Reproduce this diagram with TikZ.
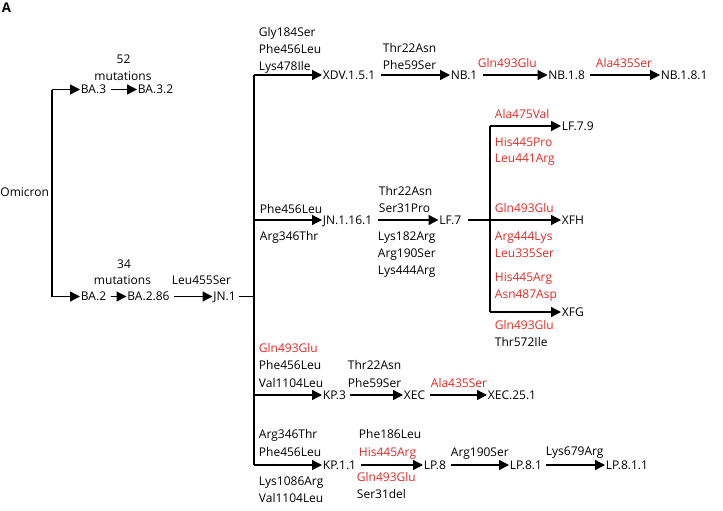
\documentclass[tikz,border=0pt]{standalone}
\usepackage{fontspec}
\setmainfont{Open Sans}
\usetikzlibrary{arrows.meta}
\definecolor{mutred}{RGB}{222,44,38}
\tikzset{
  lineage/.style={anchor=west, inner sep=0.5pt, text height=7.4pt, text depth=1pt, font=\fontsize{9}{11}\selectfont},
  redmut/.style={lineage, text=mutred},
  trunk/.style={line width=1pt},
  branch/.style={line width=1pt, -{Triangle[length=7.5pt,width=7.5pt]}},
}

\begin{document}
\begin{tikzpicture}[x=0.75pt,y=0.75pt,yscale=-1,xscale=1]
\useasboundingbox (0,0) rectangle (723,510);

% Text Node
\node (panel) at (1.5,8) [anchor=west,inner sep=0pt,font=\bfseries\fontsize{10}{12}\selectfont] {A};
% Text Node
\node (omicron) at (-0.5,192.5) [lineage] {Omicron};

%Straight Lines
\coordinate (omtop) at (52,89.5);
\coordinate (ombot) at (52,296.5);
\draw [trunk] (omtop) -- (ombot);

% BA.3 lineage
\node (ba3) at (80,89.5) [lineage] {BA.3};
\node (ba32) at (137,89.5) [lineage] {BA.3.2};
\node (ba3n) at (123.5,59.5) [lineage,anchor=center] {52};
\node (ba3mut) at (123,76) [lineage,anchor=center] {mutations};
\draw [branch] (omtop) -- (ba3.west);
\draw [branch,shorten <=3pt] (ba3.east) -- (ba32.west);

% BA.2 lineage
\node (ba2) at (80,296.5) [lineage] {BA.2};
\node (ba286) at (126.5,296.5) [lineage] {BA.2.86};
\node (jn1) at (212.5,296.5) [lineage] {JN.1};
\node (ba2n) at (124,264.5) [lineage,anchor=center] {34};
\node (ba2mut) at (122.5,280.5) [lineage,anchor=center] {mutations};
\node (jn1m) at (171,280.5) [lineage] {Leu455Ser};
\draw [branch] (ombot) -- (ba2.west);
\draw [branch,shorten <=3pt] (ba2.east) -- (ba286.west);
\draw [branch,shorten <=3pt] (ba286.east) -- (jn1.west);

%Straight Lines
\coordinate (jtop) at (254,75);
\coordinate (jbot) at (254,465);
\draw [trunk] (jtop) -- (jbot);
\draw [trunk,shorten <=1.5pt] (jn1.east) -- (jtop |- jn1.east);

% XDV row
\node (xdv) at (322,75) [lineage] {XDV.1.5.1};
\node (nb1) at (450,75) [lineage] {NB.1};
\node (nb18) at (547.5,75) [lineage] {NB.1.8};
\node (nb181) at (660,75) [lineage] {NB.1.8.1};
\node (xdvm1) at (258,32) [lineage] {Gly184Ser};
\node (xdvm2) at (258,49) [lineage] {Phe456Leu};
\node (xdvm3) at (258,66) [lineage] {Lys478Ile};
\node (nb1m1) at (382,48) [lineage] {Thr22Asn};
\node (nb1m2) at (382,65) [lineage] {Phe59Ser};
\node (nb18m) at (477,63) [redmut] {Gln493Glu};
\node (nb181m) at (595,63) [redmut] {Ala435Ser};
\draw [branch] (jtop) -- (xdv.west);
\draw [branch,shorten <=3.5pt] (xdv.east) -- (nb1.west);
\draw [branch,shorten <=3.5pt] (nb1.east) -- (nb18.west);
\draw [branch,shorten <=3.5pt] (nb18.east) -- (nb181.west);

% JN.1.16.1 row
\node (jn116) at (322,220) [lineage] {JN.1.16.1};
\node (lf7) at (438.5,220) [lineage] {LF.7};
\node (jn116m1) at (259,209) [lineage] {Phe456Leu};
\node (jn116m2) at (259,236) [lineage] {Arg346Thr};
\node (lf7m1) at (378,191) [lineage] {Thr22Asn};
\node (lf7m2) at (378,208) [lineage] {Ser31Pro};
\node (lf7m3) at (377,236) [lineage] {Lys182Arg};
\node (lf7m4) at (377,253) [lineage] {Arg190Ser};
\node (lf7m5) at (377,270) [lineage] {Lys444Arg};
\draw [branch] (jtop |- jn116.west) -- (jn116.west);
\draw [branch,shorten <=3.5pt] (jn116.east) -- (lf7.west);

% LF.7 branches
\coordinate (lftop) at (490,126);
\coordinate (lfbot) at (490,312);
\draw [trunk] (lftop) -- (lfbot);
\node (lf79) at (561,126) [lineage] {LF.7.9};
\node (xfh) at (561,220) [lineage] {XFH};
\node (xfg) at (561,312) [lineage] {XFG};
\node (lf79m1) at (494,114.5) [redmut] {Ala475Val};
\node (lf79m2) at (494,142) [redmut] {His445Pro};
\node (lf79m3) at (494,158.5) [redmut] {Leu441Arg};
\node (xfhm1) at (494,208) [redmut] {Gln493Glu};
\node (xfhm2) at (494,236.5) [redmut] {Arg444Lys};
\node (xfhm3) at (494,253) [redmut] {Leu335Ser};
\node (xfgm1) at (494,277.5) [redmut] {His445Arg};
\node (xfgm2) at (494,294) [redmut] {Asn487Asp};
\node (xfgm3) at (494,325.5) [redmut] {Gln493Glu};
\node (xfgm4) at (494,342.5) [lineage] {Thr572Ile};
\draw [branch] (lftop) -- (lf79.west);
\draw [branch,shorten <=4.5pt] (lf7.east) -- (xfh.west);
\draw [branch] (lfbot) -- (xfg.west);

% KP.3 row
\node (kp3) at (322,395) [lineage] {KP.3};
\node (xec) at (403,395) [lineage] {XEC};
\node (xec251) at (487,395) [lineage] {XEC.25.1};
\node (kp3m1) at (258,348.5) [redmut] {Gln493Glu};
\node (kp3m2) at (258,365) [lineage] {Phe456Leu};
\node (kp3m3) at (258,383) [lineage] {Val1104Leu};
\node (xecm1) at (347,365) [lineage] {Thr22Asn};
\node (xecm2) at (347,383) [lineage] {Phe59Ser};
\node (xec251m) at (430,383.5) [redmut] {Ala435Ser};
\draw [branch] (jtop |- kp3.west) -- (kp3.west);
\draw [branch,shorten <=2.5pt] (kp3.east) -- (xec.west);
\draw [branch,shorten <=3pt] (xec.east) -- (xec251.west);

% KP.1.1 row
\node (kp11) at (322,465) [lineage] {KP.1.1};
\node (lp8) at (423,465) [lineage] {LP.8};
\node (lp81) at (509,465) [lineage] {LP.8.1};
\node (lp811) at (605,465) [lineage] {LP.8.1.1};
\node (kp11m1) at (258,434.5) [lineage] {Arg346Thr};
\node (kp11m2) at (258,452) [lineage] {Phe456Leu};
\node (kp11m3) at (258,481) [lineage] {Lys1086Arg};
\node (kp11m4) at (258,498) [lineage] {Val1104Leu};
\node (lp8m1) at (358,434.5) [lineage] {Phe186Leu};
\node (lp8m2) at (358,452) [redmut] {His445Arg};
\node (lp8m3) at (356,477) [redmut] {Gln493Glu};
\node (lp8m4) at (356,494) [lineage] {Ser31del};
\node (lp81m) at (450,452) [lineage] {Arg190Ser};
\node (lp811m) at (545,451.5) [lineage] {Lys679Arg};
\draw [branch] (jbot) -- (kp11.west);
\draw [branch,shorten <=3pt] (kp11.east) -- (lp8.west);
\draw [branch,shorten <=3pt] (lp8.east) -- (lp81.west);
\draw [branch,shorten <=2.5pt] (lp81.east) -- (lp811.west);

\end{tikzpicture}
\end{document}
